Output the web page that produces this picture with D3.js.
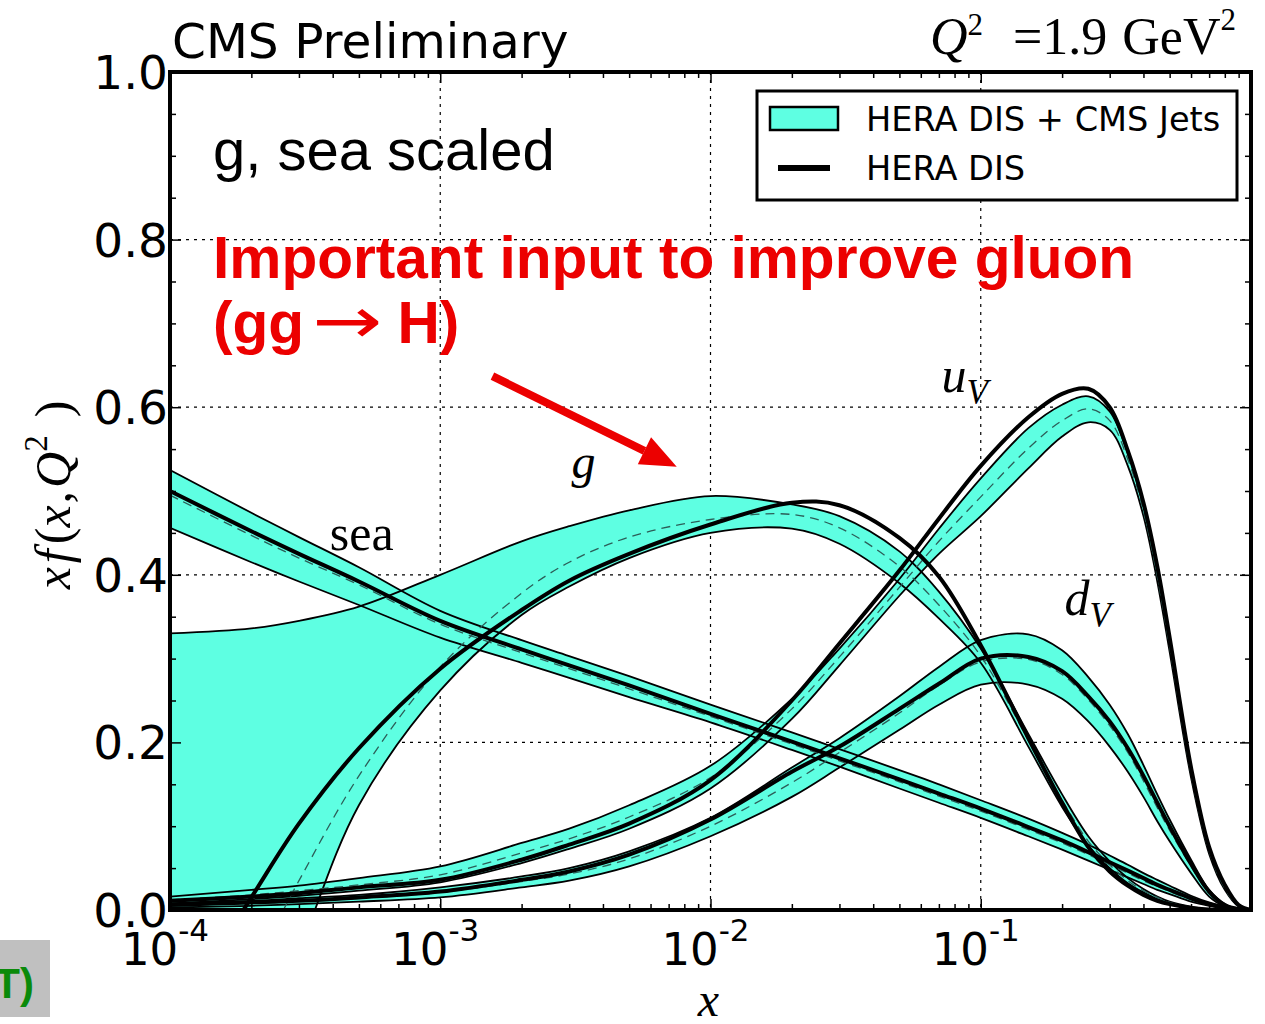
<!DOCTYPE html>
<html>
<head>
<meta charset="utf-8">
<script src="https://cdn.jsdelivr.net/npm/d3@7"></script>
<style>
  html, body { margin: 0; padding: 0; background: #fff; }
  svg { display: block; }
</style>
</head>
<body>
<div id="chart"></div>
<script>
var xGrid = [1e-4, 2e-4, 3e-4, 5e-4, 1e-3, 2e-3, 3e-3, 5e-3, 0.01, 0.02, 0.03, 0.05, 0.07, 0.1,
             0.15, 0.2, 0.25, 0.3, 0.35, 0.4, 0.45, 0.5, 0.6, 0.7, 0.8, 0.9, 1.0];

// gluon (scaled)
var gluonUp   = [0.330, 0.336, 0.345, 0.362, 0.400, 0.440, 0.458, 0.477, 0.494, 0.484, 0.470, 0.428, 0.380, 0.312,
                 0.210, 0.138, 0.088, 0.058, 0.038, 0.025, 0.016, 0.010, 0.004, 0.001, 0, 0, 0];
var gluonLow  = [-0.42, -0.19, -0.05, 0.125, 0.262, 0.352, 0.386, 0.420, 0.450, 0.455, 0.437, 0.390, 0.348, 0.295,
                 0.195, 0.123, 0.077, 0.050, 0.032, 0.021, 0.013, 0.008, 0.003, 0.0008, 0, 0, 0];
var gluonMid  = [-0.21, -0.07, 0.035, 0.160, 0.290, 0.378, 0.415, 0.445, 0.466, 0.472, 0.456, 0.410, 0.364, 0.303,
                 0.203, 0.131, 0.082, 0.054, 0.035, 0.023, 0.015, 0.009, 0.0035, 0.001, 0, 0, 0];
var gluonHera = [-0.14, 0.015, 0.103, 0.193, 0.288, 0.358, 0.393, 0.425, 0.460, 0.486, 0.483, 0.444, 0.398, 0.316,
                 0.205, 0.128, 0.075, 0.046, 0.029, 0.018, 0.011, 0.007, 0.0025, 0.0006, 0, 0, 0];

// sea (scaled)
var seaUp   = [0.525, 0.474, 0.445, 0.409, 0.357, 0.322, 0.303, 0.279, 0.245, 0.212, 0.192, 0.167, 0.150, 0.131,
               0.109, 0.092, 0.078, 0.065, 0.054, 0.044, 0.036, 0.029, 0.017, 0.009, 0.004, 0.0011, 0];
var seaLow  = [0.456, 0.415, 0.392, 0.364, 0.325, 0.295, 0.277, 0.254, 0.224, 0.191, 0.171, 0.145, 0.128, 0.110,
               0.088, 0.072, 0.059, 0.048, 0.039, 0.031, 0.024, 0.019, 0.010, 0.005, 0.002, 0.0005, 0];
var seaMid  = [0.495, 0.447, 0.420, 0.388, 0.341, 0.307, 0.288, 0.264, 0.231, 0.198, 0.178, 0.153, 0.136, 0.118,
               0.096, 0.080, 0.066, 0.054, 0.044, 0.035, 0.028, 0.022, 0.012, 0.006, 0.0025, 0.0006, 0];
var seaHera = [0.500, 0.452, 0.425, 0.392, 0.345, 0.311, 0.292, 0.268, 0.234, 0.201, 0.181, 0.156, 0.139, 0.121,
               0.099, 0.083, 0.069, 0.057, 0.047, 0.038, 0.030, 0.024, 0.014, 0.007, 0.003, 0.0008, 0];

// u valence
var uvUp   = [0.016, 0.024, 0.029, 0.038, 0.052, 0.080, 0.097, 0.125, 0.172, 0.252, 0.312, 0.395, 0.455, 0.515,
              0.575, 0.603, 0.613, 0.595, 0.545, 0.482, 0.405, 0.320, 0.167, 0.073, 0.028, 0.005, 0];
var uvLow  = [0.008, 0.013, 0.017, 0.023, 0.033, 0.056, 0.073, 0.097, 0.145, 0.228, 0.292, 0.375, 0.425, 0.470,
              0.527, 0.565, 0.582, 0.573, 0.530, 0.470, 0.392, 0.308, 0.158, 0.067, 0.024, 0.004, 0];
var uvMid  = [0.012, 0.018, 0.023, 0.030, 0.042, 0.068, 0.085, 0.111, 0.158, 0.240, 0.302, 0.385, 0.440, 0.493,
              0.551, 0.584, 0.598, 0.584, 0.538, 0.476, 0.398, 0.314, 0.162, 0.070, 0.026, 0.0045, 0];
var uvHera = [0.011, 0.016, 0.020, 0.027, 0.036, 0.060, 0.078, 0.103, 0.155, 0.250, 0.318, 0.405, 0.467, 0.530,
              0.588, 0.616, 0.622, 0.600, 0.548, 0.486, 0.410, 0.325, 0.170, 0.075, 0.030, 0.006, 0];

// d valence
var dvUp   = [0.008, 0.011, 0.014, 0.018, 0.027, 0.040, 0.050, 0.070, 0.110, 0.170, 0.205, 0.255, 0.290, 0.322,
              0.329, 0.310, 0.278, 0.245, 0.210, 0.173, 0.138, 0.108, 0.060, 0.024, 0.007, 0.001, 0];
var dvLow  = [0.003, 0.005, 0.007, 0.010, 0.015, 0.027, 0.035, 0.052, 0.088, 0.135, 0.170, 0.215, 0.245, 0.269,
              0.269, 0.252, 0.225, 0.195, 0.165, 0.135, 0.106, 0.082, 0.044, 0.016, 0.004, 0.0006, 0];
var dvMid  = [0.0055, 0.008, 0.0105, 0.014, 0.021, 0.034, 0.043, 0.061, 0.100, 0.152, 0.188, 0.235, 0.268, 0.296,
              0.299, 0.281, 0.251, 0.220, 0.188, 0.154, 0.122, 0.095, 0.052, 0.020, 0.0055, 0.0008, 0];
var dvHera = [0.006, 0.009, 0.011, 0.015, 0.022, 0.036, 0.046, 0.066, 0.108, 0.165, 0.195, 0.240, 0.270, 0.300,
              0.302, 0.285, 0.255, 0.225, 0.193, 0.160, 0.128, 0.100, 0.055, 0.022, 0.006, 0.001, 0];

// axes
var xMajorTicks = [1e-4, 1e-3, 1e-2, 1e-1, 1];
var xTickExps   = ["-4", "-3", "-2", "-1"];
var yMajorTicks = [0, 0.2, 0.4, 0.6, 0.8, 1.0];
var yTickLabels = ["0.0", "0.2", "0.4", "0.6", "0.8", "1.0"];
var yMinorTicks = [0.05, 0.1, 0.15, 0.25, 0.3, 0.35, 0.45, 0.5, 0.55, 0.65, 0.7, 0.75, 0.85, 0.9, 0.95];

// curve labels, placed in data coordinates
var curveLabels = [
  { main: "g",   sub: "",  x: 3.06e-3, y: 0.515, italic: true,  size: 48 },
  { main: "sea", sub: "",  x: 3.9e-4,  y: 0.430, italic: false, size: 50 },
  { main: "u",   sub: "V", x: 0.0715,  y: 0.618, italic: true,  size: 50 },
  { main: "d",   sub: "V", x: 0.204,   y: 0.352, italic: true,  size: 50 }
];
var arrowFrom = { x: 1.56e-3, y: 0.637 };
var arrowTo   = { x: 7.5e-3,  y: 0.529 };

var bandColor = "#5effe2";

function draw() {
  var W = 1265, H = 1024;
  var pLeft = 170, pRight = 1251, pTop = 72, pBottom = 910;

  var svg = d3.select("#chart").append("svg")
    .attr("width", W)
    .attr("height", H)
    .style("background", "#fff");

  var x = d3.scaleLog().domain([1e-4, 1]).range([pLeft, pRight]);
  var y = d3.scaleLinear().domain([0, 1]).range([pBottom, pTop]);

  svg.append("clipPath").attr("id", "plotClip")
    .append("rect")
    .attr("x", pLeft).attr("y", pTop)
    .attr("width", pRight - pLeft).attr("height", pBottom - pTop);

  // Grid lines (dotted) at the major ticks
  var grid = svg.append("g");
  grid.selectAll("line.gx")
    .data(xMajorTicks.slice(1, -1))
    .enter().append("line")
    .attr("x1", d => x(d)).attr("x2", d => x(d))
    .attr("y1", pTop).attr("y2", pBottom);
  grid.selectAll("line.gy")
    .data(yMajorTicks.slice(1, -1))
    .enter().append("line")
    .attr("x1", pLeft).attr("x2", pRight)
    .attr("y1", d => y(d)).attr("y2", d => y(d));
  grid.selectAll("line")
    .style("stroke", "#000")
    .style("stroke-width", 1.2)
    .style("stroke-dasharray", "3,5");

  // Curves
  function band(lo, hi) {
    return xGrid.map(function (xv, i) { return { x: xv, lo: lo[i], hi: hi[i] }; });
  }
  function series(vals) {
    return xGrid.map(function (xv, i) { return { x: xv, v: vals[i] }; });
  }
  var smooth = d3.curveCatmullRom.alpha(0.5);
  var area = d3.area()
    .x(d => x(d.x)).y0(d => y(d.lo)).y1(d => y(d.hi))
    .curve(smooth);
  var line = d3.line()
    .x(d => x(d.x)).y(d => y(d.v))
    .curve(smooth);

  var pdfs = [
    { up: gluonUp, low: gluonLow, mid: gluonMid, hera: gluonHera },
    { up: seaUp,   low: seaLow,   mid: seaMid,   hera: seaHera },
    { up: uvUp,    low: uvLow,    mid: uvMid,    hera: uvHera },
    { up: dvUp,    low: dvLow,    mid: dvMid,    hera: dvHera }
  ];

  var plot = svg.append("g").attr("clip-path", "url(#plotClip)");

  plot.append("g").selectAll("path")
    .data(pdfs).enter().append("path")
    .attr("d", d => area(band(d.low, d.up)))
    .style("fill", bandColor)
    .style("stroke", "none");

  var edges = [];
  pdfs.forEach(function (p) { edges.push(p.up); edges.push(p.low); });
  plot.append("g").selectAll("path")
    .data(edges).enter().append("path")
    .attr("d", d => line(series(d)))
    .style("fill", "none")
    .style("stroke", "#000")
    .style("stroke-width", 1.8);

  plot.append("g").selectAll("path")
    .data(pdfs).enter().append("path")
    .attr("d", d => line(series(d.mid)))
    .style("fill", "none")
    .style("stroke", "#2c5e58")
    .style("stroke-width", 1.3)
    .style("stroke-dasharray", "9,6");

  plot.append("g").selectAll("path")
    .data(pdfs).enter().append("path")
    .attr("d", d => line(series(d.hera)))
    .style("fill", "none")
    .style("stroke", "#000")
    .style("stroke-width", 4);

  // Ticks (pointing inwards) on all four sides
  var xMinorTicks = x.ticks().filter(d => xMajorTicks.indexOf(d) < 0);
  function styleAxis(g) {
    g.select(".domain").remove();
    g.selectAll("line").style("stroke", "#000").style("stroke-width", 1.5);
  }
  svg.append("g").attr("transform", "translate(0," + pBottom + ")")
    .call(d3.axisBottom(x).tickValues(xMajorTicks).tickSize(-11).tickFormat("")).call(styleAxis);
  svg.append("g").attr("transform", "translate(0," + pBottom + ")")
    .call(d3.axisBottom(x).tickValues(xMinorTicks).tickSize(-6).tickFormat("")).call(styleAxis);
  svg.append("g").attr("transform", "translate(0," + pTop + ")")
    .call(d3.axisTop(x).tickValues(xMajorTicks).tickSize(-11).tickFormat("")).call(styleAxis);
  svg.append("g").attr("transform", "translate(0," + pTop + ")")
    .call(d3.axisTop(x).tickValues(xMinorTicks).tickSize(-6).tickFormat("")).call(styleAxis);
  svg.append("g").attr("transform", "translate(" + pLeft + ",0)")
    .call(d3.axisLeft(y).tickValues(yMajorTicks).tickSize(-11).tickFormat("")).call(styleAxis);
  svg.append("g").attr("transform", "translate(" + pLeft + ",0)")
    .call(d3.axisLeft(y).tickValues(yMinorTicks).tickSize(-6).tickFormat("")).call(styleAxis);
  svg.append("g").attr("transform", "translate(" + pRight + ",0)")
    .call(d3.axisRight(y).tickValues(yMajorTicks).tickSize(-11).tickFormat("")).call(styleAxis);
  svg.append("g").attr("transform", "translate(" + pRight + ",0)")
    .call(d3.axisRight(y).tickValues(yMinorTicks).tickSize(-6).tickFormat("")).call(styleAxis);

  // Frame
  svg.append("rect")
    .attr("x", pLeft).attr("y", pTop)
    .attr("width", pRight - pLeft).attr("height", pBottom - pTop)
    .style("fill", "none").style("stroke", "#000").style("stroke-width", 4);

  // Tick labels
  var sans = "'DejaVu Sans', sans-serif";
  var serif = "'Liberation Serif', 'DejaVu Serif', serif";
  var arial = "'Liberation Sans', Arial, sans-serif";
  svg.append("g").selectAll("text")
    .data(yMajorTicks).enter().append("text")
    .attr("x", pLeft - 2)
    .attr("y", d => y(d) + 17)
    .attr("text-anchor", "end")
    .style("font-family", sans).style("font-size", "47px")
    .text((d, i) => yTickLabels[i]);

  var xl = svg.append("g").selectAll("text")
    .data(xMajorTicks.slice(0, 4)).enter().append("text")
    .attr("x", d => x(d) - 5)
    .attr("y", 965)
    .attr("text-anchor", "middle")
    .style("font-family", sans).style("font-size", "45px");
  xl.append("tspan").text("10");
  xl.append("tspan").attr("dy", -24).style("font-size", "31px").text((d, i) => xTickExps[i]);

  // Axis titles
  svg.append("text")
    .attr("x", (pLeft + pRight) / 2 - 2).attr("y", 1016)
    .attr("text-anchor", "middle")
    .style("font-family", serif).style("font-style", "italic").style("font-size", "48px")
    .text("x");

  var yt = svg.append("text")
    .attr("transform", "translate(70,495) rotate(-90)")
    .attr("text-anchor", "middle")
    .style("font-family", serif).style("font-size", "50px");
  yt.append("tspan").style("font-style", "italic").text("x");
  yt.append("tspan").attr("dx", 4).style("font-style", "italic").text("f");
  yt.append("tspan").attr("dx", 5).text("(");
  yt.append("tspan").style("font-style", "italic").text("x");
  yt.append("tspan").attr("dx", 2).text(",");
  yt.append("tspan").attr("dx", 3).style("font-style", "italic").text("Q");
  yt.append("tspan").attr("dy", -23).style("font-size", "33px").text("2");
  yt.append("tspan").attr("dy", 23).attr("dx", 18).text(")");

  // Titles
  svg.append("text")
    .attr("x", 172).attr("y", 58)
    .style("font-family", sans).style("font-size", "48.6px")
    .text("CMS Preliminary");

  var q = svg.append("text")
    .attr("x", 1236).attr("y", 54)
    .attr("text-anchor", "end")
    .style("font-family", serif).style("font-size", "52px");
  q.append("tspan").style("font-style", "italic").text("Q");
  q.append("tspan").attr("dy", -19).style("font-size", "31px").text("2");
  q.append("tspan").attr("dy", 19).attr("dx", 30).text("=1.9");
  q.append("tspan").attr("dx", 15).text("GeV");
  q.append("tspan").attr("dy", -24).style("font-size", "31px").text("2");

  svg.append("text")
    .attr("x", 213).attr("y", 170)
    .style("font-family", arial).style("font-size", "58px")
    .text("g, sea scaled");

  var red = "#ec0000";
  svg.append("text")
    .attr("x", 213).attr("y", 278)
    .style("font-family", arial).style("font-weight", "bold")
    .style("font-size", "58.6px").style("fill", red)
    .text("Important input to improve gluon");
  var r2 = svg.append("text")
    .attr("x", 213).attr("y", 343)
    .style("font-family", arial).style("font-weight", "bold")
    .style("font-size", "58.6px").style("fill", red);
  r2.append("tspan").text("(gg");
  r2.append("tspan").attr("dx", 8)
    .attr("textLength", 70).attr("lengthAdjust", "spacingAndGlyphs")
    .style("font-family", sans).style("font-weight", "normal")
    .style("font-size", "64px").text("\u2192");
  r2.append("tspan").attr("dx", -1).text(" H)");

  // Red arrow
  var ax0 = x(arrowFrom.x), ay0 = y(arrowFrom.y), ax1 = x(arrowTo.x), ay1 = y(arrowTo.y);
  var ang = Math.atan2(ay1 - ay0, ax1 - ax0);
  var headLen = 36, headHalf = 15;
  var bx = ax1 - headLen * Math.cos(ang), by = ay1 - headLen * Math.sin(ang);
  svg.append("line")
    .attr("x1", ax0).attr("y1", ay0).attr("x2", bx).attr("y2", by)
    .style("stroke", red).style("stroke-width", 8);
  svg.append("path")
    .attr("d", "M" + ax1 + "," + ay1 +
      "L" + (bx + headHalf * Math.sin(ang)) + "," + (by - headHalf * Math.cos(ang)) +
      "L" + (bx - headHalf * Math.sin(ang)) + "," + (by + headHalf * Math.cos(ang)) + "Z")
    .style("fill", red);

  // Curve labels
  var cl = svg.append("g").selectAll("text")
    .data(curveLabels).enter().append("text")
    .attr("x", d => x(d.x)).attr("y", d => y(d.y))
    .style("font-family", serif)
    .style("font-size", d => d.size + "px");
  cl.append("tspan").style("font-style", d => d.italic ? "italic" : "normal").text(d => d.main);
  cl.append("tspan").attr("dy", 12).style("font-style", "italic").style("font-size", "35px").text(d => d.sub);

  // Legend
  var lg = svg.append("g");
  lg.append("rect")
    .attr("x", 757).attr("y", 91).attr("width", 480).attr("height", 109)
    .style("fill", "#fff").style("stroke", "#000").style("stroke-width", 3);
  lg.append("rect")
    .attr("x", 770).attr("y", 107).attr("width", 68).attr("height", 23)
    .style("fill", bandColor).style("stroke", "#000").style("stroke-width", 2.5);
  lg.append("line")
    .attr("x1", 778).attr("x2", 830).attr("y1", 168).attr("y2", 168)
    .style("stroke", "#000").style("stroke-width", 6);
  lg.append("text").attr("x", 866).attr("y", 131)
    .style("font-family", sans).style("font-size", "33.6px").text("HERA DIS + CMS Jets");
  lg.append("text").attr("x", 866).attr("y", 180)
    .style("font-family", sans).style("font-size", "33.6px").text("HERA DIS");

  // Slide remnant at the bottom left
  svg.append("rect")
    .attr("x", 0).attr("y", 940).attr("width", 50).attr("height", 77)
    .style("fill", "#c0c0c0");
  svg.append("text")
    .attr("x", 34).attr("y", 998)
    .attr("text-anchor", "end")
    .style("font-family", arial).style("font-weight", "bold")
    .style("font-size", "42px").style("fill", "#0a8a0a")
    .text("T)");
}

draw();
</script>
</body>
</html>
